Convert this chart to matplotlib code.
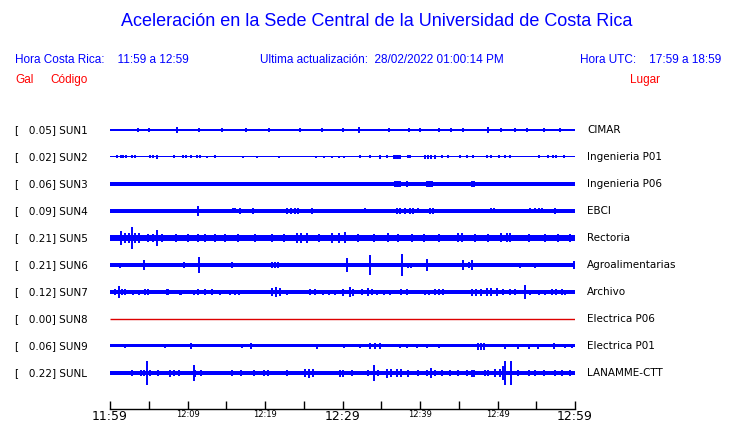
import matplotlib
matplotlib.use("Agg")
import matplotlib.pyplot as plt
import matplotlib.transforms as mtransforms

### Data
codes = ["SUN1", "SUN2", "SUN3", "SUN4", "SUN5", "SUN6", "SUN7", "SUN8", "SUN9", "SUNL"]
places = ["CIMAR", "Ingenieria P01", "Ingenieria P06", "EBCI", "Rectoria",
          "Agroalimentarias", "Archivo", "Electrica P06", "Electrica P01", "LANAMME-CTT"]
peak_gal = [0.05, 0.02, 0.06, 0.09, 0.21, 0.21, 0.12, 0.00, 0.06, 0.22]

# background noise half-width of each trace (pixels)
noise_level = [1.4, 0.5, 1.7, 1.7, 3.2, 1.7, 1.7, 0.0, 1.5, 1.7]

# spikes: (minutes after 11:59, half amplitude in pixels)
sun1_spikes = [(3.6, 1.8), (5.0, 2.2), (8.7, 3.3), (11.5, 1.8), (14.5, 1.8), (17.5, 1.8),
               (20.5, 1.8), (24.5, 1.8), (27.3, 1.8), (30.0, 2.0), (32.1, 3.3), (36.0, 1.8),
               (38.6, 2.0), (40.0, 1.8), (42.4, 1.8), (44.0, 1.8), (45.5, 1.8), (48.8, 3.3),
               (50.5, 1.8), (52.2, 1.8), (53.8, 2.2), (56.0, 1.8), (58.0, 1.8)]
sun2_spikes = [(0.9, 1.5), (1.4, 1.5), (1.7, 1.5), (2.0, 1.5), (2.8, 1.5), (3.2, 1.5), (5.2, 1.5),
               (5.6, 1.5), (6.1, 1.8), (8.2, 1.5), (9.4, 1.5), (9.8, 1.5), (10.5, 1.5), (11.2, 1.5),
               (11.6, 1.5), (12.5, 1.2), (13.5, 1.5), (17.1, 1.2), (19.0, 1.2), (21.8, 1.2),
               (26.6, 1.2), (27.6, 1.2), (28.7, 1.2), (29.6, 1.2), (30.2, 1.2), (32.3, 1.5),
               (33.5, 1.5), (34.8, 1.8), (35.8, 1.5), (36.6, 2.0), (36.8, 2.0), (37.0, 2.0),
               (37.2, 2.0), (37.4, 2.0), (38.4, 1.5), (38.7, 1.5), (40.6, 2.0), (41.0, 2.0),
               (41.4, 2.0), (41.9, 2.0), (42.9, 1.5), (43.6, 1.5), (45.1, 1.5), (46.1, 1.5),
               (46.9, 1.5), (48.7, 1.5), (49.2, 1.5), (50.2, 1.5), (51.0, 1.5), (51.6, 1.5),
               (55.3, 1.5), (56.5, 1.5), (57.2, 1.5), (57.5, 1.5), (58.6, 1.5)]
sun3_spikes = [(0.9, 2.4), (1.4, 2.4), (2.0, 2.4), (2.2, 2.4), (2.6, 2.4), (3.0, 2.4), (4.3, 2.4),
               (5.6, 2.4), (5.8, 2.4), (6.1, 2.4), (6.8, 2.2), (8.4, 2.2), (9.2, 2.4), (9.6, 2.4),
               (9.9, 2.4), (10.6, 2.2), (11.4, 2.2), (12.5, 2.2), (13.5, 2.2), (20.1, 2.4),
               (22.7, 2.2), (28.7, 2.2), (29.5, 2.4), (29.8, 2.4), (30.1, 2.4), (31.2, 2.2),
               (31.8, 2.2), (32.5, 2.2), (33.3, 2.2), (34.2, 2.2), (34.8, 2.2), (35.5, 2.2),
               (36.8, 2.8), (37.0, 2.8), (37.2, 2.8), (37.4, 2.8), (38.3, 3.3), (39.6, 2.4),
               (40.9, 2.8), (41.1, 2.8), (41.3, 2.8), (41.5, 2.8), (42.1, 2.4), (44.3, 2.2),
               (45.1, 2.2), (46.7, 2.8), (47.0, 2.8), (48.6, 2.4), (49.3, 2.4), (51.0, 2.2),
               (52.2, 2.4), (52.7, 2.4), (53.3, 2.2), (55.3, 2.4), (55.5, 2.4), (57.4, 2.4),
               (57.7, 2.4), (59.6, 2.2)]
sun4_spikes = [(0.7, 2.0), (1.1, 2.0), (4.5, 2.0), (5.1, 2.0), (6.0, 2.0), (7.4, 2.0), (8.6, 2.2),
               (8.8, 2.2), (11.3, 4.7), (15.9, 2.5), (16.1, 2.5), (16.8, 3.0), (18.5, 3.0),
               (21.1, 2.2), (22.9, 3.0), (23.4, 3.0), (23.9, 3.0), (24.3, 3.0), (26.0, 3.0),
               (27.1, 2.2), (28.0, 2.2), (29.5, 2.2), (31.0, 2.2), (31.8, 2.2), (32.9, 2.5),
               (34.0, 2.2), (34.6, 2.2), (35.5, 2.2), (37.0, 3.0), (37.4, 3.0), (38.1, 3.0),
               (38.7, 3.0), (39.1, 3.0), (39.8, 2.5), (41.3, 3.0), (41.7, 3.0), (43.1, 2.2),
               (45.2, 2.2), (47.3, 2.2), (47.9, 2.2), (48.4, 2.2), (49.2, 2.5), (49.5, 2.5),
               (50.5, 2.2), (52.5, 2.2), (53.1, 2.2), (54.2, 2.5), (54.8, 2.5), (55.3, 2.5),
               (55.7, 2.5), (56.3, 2.2), (57.4, 3.0), (58.3, 2.2), (58.9, 2.2), (59.6, 2.2)]
sun5_spikes = [(1.4, 7.3), (1.9, 5.0), (2.4, 5.0), (2.9, 11.0), (3.2, 5.0), (3.7, 5.0), (4.9, 4.0),
               (5.6, 4.0), (6.1, 7.7), (6.7, 4.0), (8.5, 3.6), (10.0, 3.6), (11.4, 4.0),
               (12.3, 4.0), (13.5, 4.0), (14.8, 3.6), (16.5, 3.6), (18.7, 4.0), (20.9, 3.6),
               (22.5, 3.6), (24.1, 5.0), (24.7, 5.0), (25.4, 5.0), (27.0, 3.6), (28.6, 5.0),
               (29.5, 5.0), (30.3, 5.5), (32.0, 3.6), (34.0, 3.6), (35.9, 4.5), (37.2, 4.0),
               (39.0, 3.6), (40.5, 3.6), (42.4, 4.0), (44.9, 4.5), (45.4, 4.5), (47.1, 4.0),
               (48.8, 3.6), (50.5, 4.5), (51.2, 4.5), (51.6, 4.5), (54.0, 4.0), (56.1, 4.0),
               (57.8, 3.6), (59.3, 4.0)]
sun6_spikes = [(1.3, 2.5), (4.4, 4.7), (5.6, 2.2), (6.9, 2.2), (9.5, 3.0), (10.8, 2.2), (11.5, 8.0),
               (13.5, 2.2), (15.8, 3.0), (17.4, 2.2), (18.5, 2.2), (20.0, 2.2), (20.9, 3.0),
               (21.3, 3.0), (21.7, 3.0), (22.8, 2.2), (24.3, 2.2), (26.2, 2.2), (27.7, 2.2),
               (28.6, 2.2), (29.7, 2.2), (30.6, 7.0), (32.7, 2.2), (33.5, 10.0), (34.1, 2.2),
               (34.6, 2.2), (36.2, 2.2), (37.0, 2.2), (37.7, 10.8), (38.5, 2.5), (38.9, 2.5),
               (40.9, 6.0), (41.9, 2.2), (43.2, 2.2), (45.5, 4.5), (46.3, 3.0), (46.7, 5.5),
               (49.0, 2.2), (51.6, 2.2), (52.9, 2.5), (54.8, 2.5), (56.5, 2.2), (57.8, 2.2),
               (59.9, 4.0)]
sun7_spikes = [(0.7, 3.0), (1.1, 6.0), (1.5, 3.0), (1.9, 3.0), (3.0, 2.5), (3.7, 2.5), (4.5, 3.0),
               (4.9, 3.0), (7.3, 3.0), (7.5, 3.0), (9.0, 2.5), (9.2, 2.5), (10.8, 2.5),
               (11.4, 3.0), (12.3, 3.0), (13.1, 3.0), (14.2, 2.5), (15.5, 2.5), (16.1, 2.5),
               (16.6, 2.5), (17.4, 2.2), (19.1, 2.2), (19.6, 2.2), (20.9, 4.0), (21.4, 5.3),
               (21.9, 4.0), (22.9, 2.5), (23.9, 2.2), (24.5, 2.2), (25.8, 3.0), (26.4, 3.0),
               (27.5, 2.5), (28.2, 2.5), (29.0, 2.5), (30.1, 3.5), (31.0, 4.5), (31.4, 3.5),
               (32.5, 3.0), (33.3, 4.0), (33.8, 3.0), (34.4, 2.5), (35.3, 2.5), (36.1, 2.5),
               (37.6, 3.0), (38.3, 3.0), (39.6, 2.2), (40.6, 2.5), (41.1, 2.5), (41.9, 3.0),
               (42.4, 3.0), (43.0, 3.0), (43.9, 2.2), (44.7, 2.2), (45.8, 2.2), (46.7, 3.5),
               (47.2, 3.5), (47.9, 3.5), (48.6, 4.0), (49.2, 4.0), (49.9, 4.0), (50.7, 3.0),
               (51.6, 3.0), (52.2, 3.0), (53.6, 7.0), (54.2, 2.5), (55.3, 2.5), (56.1, 2.5),
               (57.0, 3.0), (57.6, 3.0), (58.3, 3.0), (58.7, 2.5)]
sun8_spikes = []
sun9_spikes = [(1.9, 2.0), (7.1, 2.0), (10.5, 3.0), (17.0, 2.0), (18.2, 2.7), (26.7, 2.5),
               (30.2, 2.2), (32.3, 2.2), (33.5, 3.3), (34.2, 3.3), (34.8, 3.3), (37.4, 2.2),
               (38.3, 2.2), (39.6, 2.2), (40.9, 2.2), (42.4, 2.2), (47.5, 3.5), (47.9, 3.5),
               (48.2, 3.5), (51.0, 2.5), (52.7, 2.5), (54.1, 2.5), (55.2, 2.5), (57.3, 3.0),
               (58.7, 2.2), (59.6, 2.2)]
sunl_spikes = [(2.8, 3.0), (4.0, 2.5), (4.4, 3.0), (4.8, 11.7), (5.2, 3.0), (6.2, 2.5), (7.7, 3.5),
               (8.2, 2.5), (8.9, 2.5), (10.8, 8.3), (11.0, 3.5), (11.8, 3.0), (13.9, 2.2),
               (15.7, 2.5), (16.9, 2.5), (18.6, 2.5), (19.9, 2.5), (20.4, 2.5), (22.9, 2.5),
               (23.9, 2.2), (25.2, 4.0), (25.7, 4.5), (26.2, 4.0), (29.7, 3.5), (30.0, 3.5),
               (31.2, 2.5), (33.3, 2.5), (34.0, 8.3), (34.6, 2.5), (35.7, 4.5), (36.3, 4.0),
               (37.0, 4.0), (37.6, 4.0), (38.5, 3.5), (39.8, 2.5), (40.9, 3.0), (41.4, 5.0),
               (41.9, 3.0), (42.8, 2.5), (43.9, 2.5), (44.9, 2.5), (46.0, 2.5), (46.7, 3.5),
               (47.0, 3.5), (48.4, 2.5), (48.8, 2.5), (49.7, 4.0), (50.3, 4.0), (50.7, 7.0),
               (51.0, 12.3), (51.7, 11.7), (52.7, 2.5), (54.1, 3.0), (54.8, 2.5), (56.0, 2.5),
               (57.4, 2.5), (58.3, 2.5), (59.3, 3.0)]

spikes = [sun1_spikes, sun2_spikes, sun3_spikes, sun4_spikes, sun5_spikes,
          sun6_spikes, sun7_spikes, sun8_spikes, sun9_spikes, sunl_spikes]

tick_minutes = list(range(0, 61, 5))
tick_labels = ["11:59", "", "12:09", "", "12:19", "", "12:29", "", "12:39", "", "12:49", "", "12:59"]
big_labels = ["11:59", "12:29", "12:59"]

### Figure
W, H = 740, 423
BLUE = "#0000ff"
RED = "#ff0000"
fig = plt.figure(figsize=(W / 100, H / 100), dpi=100)

def fx(px):
    return px / W

def fy(py):
    return 1 - py / H

# Header texts
head = "Liberation Sans"
fig.text(fx(377), fy(22), "Aceleración en la Sede Central de la Universidad de Costa Rica",
         ha="center", va="center", color=BLUE, fontsize=13, family=head)
fig.text(fx(15), fy(60), "Hora Costa Rica:    11:59 a 12:59", ha="left", va="center",
         color=BLUE, fontsize=8.5, family=head)
fig.text(fx(260), fy(60), "Ultima actualización:  28/02/2022 01:00:14 PM", ha="left", va="center",
         color=BLUE, fontsize=8.5, family=head)
fig.text(fx(580), fy(60), "Hora UTC:    17:59 a 18:59", ha="left", va="center",
         color=BLUE, fontsize=8.5, family=head)
fig.text(fx(15), fy(80), "Gal", ha="left", va="center", color=RED, fontsize=8.5, family=head)
fig.text(fx(50), fy(80), "Código", ha="left", va="center", color=RED, fontsize=8.5, family=head)
fig.text(fx(630), fy(80), "Lugar", ha="left", va="center", color=RED, fontsize=8.5, family=head)

# Trace axes: rows 27 px apart, first row at y=130 px, time axis at y=409 px
row0, row_px, top_px, base_px = 130, 27, 115, 409
ax = fig.add_axes([fx(110), fy(base_px), fx(575) - fx(110), (base_px - top_px) / H])
ax.set_xlim(0, 60)
ax.set_ylim((base_px - row0) / row_px, (top_px - row0) / row_px)

for i in range(len(codes)):
    scale = 1 / row_px
    if noise_level[i] == 0:
        ax.hlines(i, 0, 60, color="#dd0000", lw=1.0)
        continue
    b = noise_level[i] * scale
    ax.fill_between([0, 60], [i - b, i - b], [i + b, i + b], color=BLUE, lw=0)
    if spikes[i]:
        t = [s[0] for s in spikes[i]]
        a = [s[1] * scale for s in spikes[i]]
        ax.vlines(t, [i - v for v in a], [i + v for v in a], color=BLUE, lw=1.4)

# Row labels
trans = mtransforms.blended_transform_factory(fig.transFigure, ax.transData)
for i, (code, place, g) in enumerate(zip(codes, places, peak_gal)):
    ax.text(fx(15), i, f"[   {g:.2f}] {code}", transform=trans, ha="left", va="center",
            fontsize=7.5, color="black", clip_on=False)
    ax.text(fx(587), i, place, transform=trans, ha="left", va="center",
            fontsize=7.5, color="black", clip_on=False)

# Time axis
for side in ["left", "right", "top"]:
    ax.spines[side].set_visible(False)
ax.spines["bottom"].set_linewidth(1.0)
ax.set_yticks([])
ax.set_xticks(tick_minutes)
ax.set_xticklabels(tick_labels)
ax.tick_params(axis="x", direction="in", length=6, width=1.0, pad=1)
for lab in ax.get_xticklabels():
    lab.set_fontsize(9 if lab.get_text() in big_labels else 6)

fig.savefig("out.png", dpi=100)
